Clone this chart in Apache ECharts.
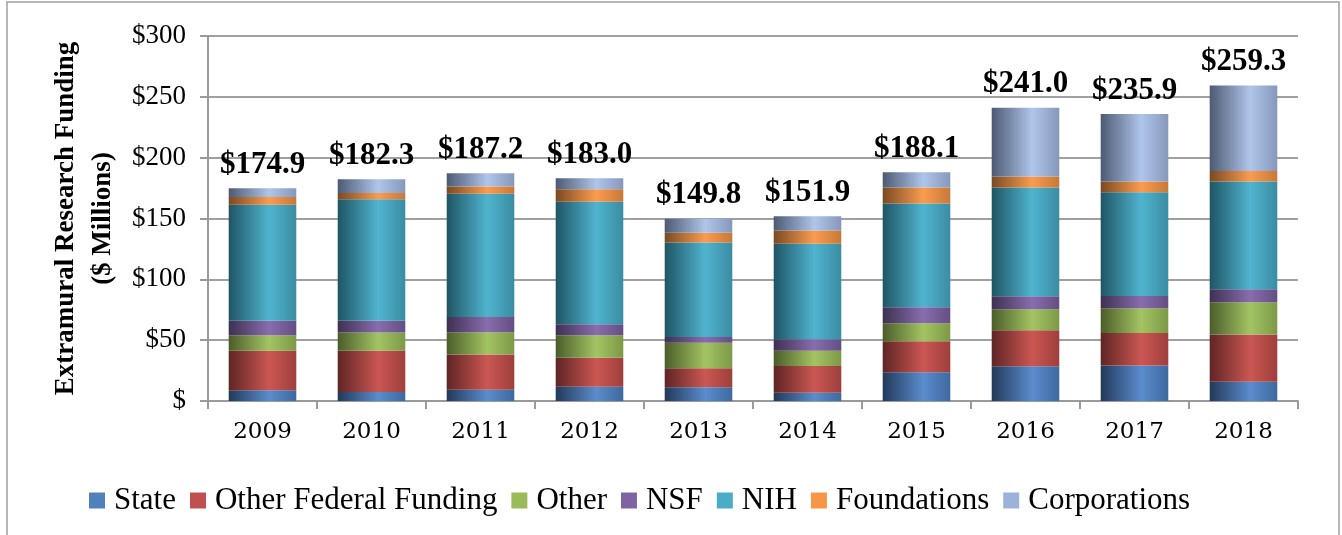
<!DOCTYPE html>
<html>
<head>
<meta charset="utf-8">
<script src="https://cdn.jsdelivr.net/npm/echarts@6/dist/echarts.min.js"></script>
<style>
html,body{margin:0;padding:0;background:#fff;}
#chart{width:1342px;height:535px;}
</style>
</head>
<body>
<div id="chart"></div>
<script>
// ---- Data (values in $ millions) ----
const years = ['2009','2010','2011','2012','2013','2014','2015','2016','2017','2018'];
const state        = [8.8, 7.4, 9.3, 11.7, 11.2, 6.8, 23.6, 28.5, 29.1, 15.9];
const otherFederal = [32.4, 33.8, 28.9, 23.8, 15.8, 21.9, 25.5, 29.6, 26.8, 38.7];
const other        = [12.9, 15.1, 18.4, 18.6, 20.8, 12.6, 14.8, 17.3, 20.3, 26.5];
const nsf          = [11.8, 9.6, 12.4, 9.0, 4.9, 9.5, 13.1, 10.7, 10.1, 10.7];
const nih          = [95.4, 100.0, 101.3, 100.6, 77.6, 78.4, 85.3, 89.3, 85.3, 88.6];
const foundations  = [6.3, 5.0, 6.1, 10.3, 8.0, 11.0, 13.1, 9.1, 8.8, 8.7];
const corporations = [7.3, 11.4, 10.8, 9.0, 11.5, 11.7, 12.7, 56.5, 55.5, 70.2];
const totals       = [174.9, 182.3, 187.2, 183.0, 149.8, 151.9, 188.1, 241.0, 235.9, 259.3];
const yTicks = [0, 50, 100, 150, 200, 250, 300];

const seriesNames = ['State','Other Federal Funding','Other','NSF','NIH','Foundations','Corporations'];
const seriesData = [state, otherFederal, other, nsf, nih, foundations, corporations];
const flatColors = ['#4F81BD','#C0504D','#9BBB59','#8064A2','#4BACC6','#F79646','#9BB3DB'];
// cylinder-like gradient stops: [dark left, bright, right edge]
const gradColors = [
  ['#22395A','#5B8CCD','#3E699F'],
  ['#5E2524','#CB5753','#9E3F3C'],
  ['#4B5D2A','#A3C463','#7C9947'],
  ['#3E3052','#896DAE','#644E82'],
  ['#1F5565','#50B4CF','#3A8CA2'],
  ['#7A4A22','#FA9C50','#C77838'],
  ['#4D5A73','#AFC5EA','#8698BA']
];

const serif = 'Liberation Serif';

const chart = echarts.init(document.getElementById('chart'), null, {renderer: 'canvas'});

function grad(c) {
  return new echarts.graphic.LinearGradient(0, 0, 1, 0, [
    {offset: 0, color: c[0]},
    {offset: 0.6, color: c[1]},
    {offset: 1, color: c[2]}
  ]);
}

const series = seriesNames.map((name, i) => {
  const s = {
    name: name,
    type: 'bar',
    stack: 'total',
    barWidth: '62%',
    data: seriesData[i],
    itemStyle: {color: grad(gradColors[i])},
    emphasis: {disabled: true}
  };
  if (i === seriesNames.length - 1) {
    s.label = {
      show: true,
      position: 'top',
      distance: 8,
      fontFamily: serif,
      fontWeight: 'bold',
      fontSize: 31,
      color: '#000',
      formatter: p => '$' + totals[p.dataIndex].toFixed(1)
    };
  }
  return s;
});

const option = {
  animation: false,
  backgroundColor: '#fff',
  textStyle: {fontFamily: serif},
  graphic: [{
    type: 'rect',
    shape: {x: 7, y: 2, width: 1332, height: 600},
    style: {fill: 'none', stroke: '#A0A0A0', lineWidth: 1.5},
    silent: true
  }],
  grid: {left: 208, right: 44, top: 36, bottom: 134},
  legend: {
    left: 84,
    top: 480,
    itemWidth: 16,
    itemHeight: 16,
    itemGap: 14,
    icon: 'rect',
    textStyle: {fontFamily: serif, fontSize: 31, color: '#000', padding: [0, 0, 0, 4]},
    data: seriesNames.map((n, i) => ({name: n, itemStyle: {color: flatColors[i]}}))
  },
  xAxis: {
    type: 'category',
    data: years,
    axisLine: {lineStyle: {color: '#9A9A9A', width: 2}},
    axisTick: {show: true, length: 8, alignWithLabel: false, lineStyle: {color: '#9A9A9A', width: 2}},
    axisLabel: {fontFamily: 'DejaVu Serif', fontSize: 23, color: '#000', margin: 20}
  },
  yAxis: {
    type: 'value',
    min: yTicks[0],
    max: yTicks[yTicks.length - 1],
    interval: 50,
    name: 'Extramural Research Funding\n($ Millions)',
    nameLocation: 'middle',
    nameGap: 84,
    nameTextStyle: {fontFamily: serif, fontWeight: 'bold', fontSize: 27, lineHeight: 37, color: '#000'},
    axisLine: {show: true, lineStyle: {color: '#9A9A9A', width: 2}},
    axisTick: {show: true, length: 8, lineStyle: {color: '#9A9A9A', width: 2}},
    splitLine: {show: true, lineStyle: {color: '#A0A0A0', width: 2}},
    axisLabel: {
      fontFamily: serif, fontSize: 27, color: '#000', margin: 22,
      formatter: v => v === 0 ? '$' : '$' + v
    }
  },
  series: series
};

chart.setOption(option);
</script>
</body>
</html>
